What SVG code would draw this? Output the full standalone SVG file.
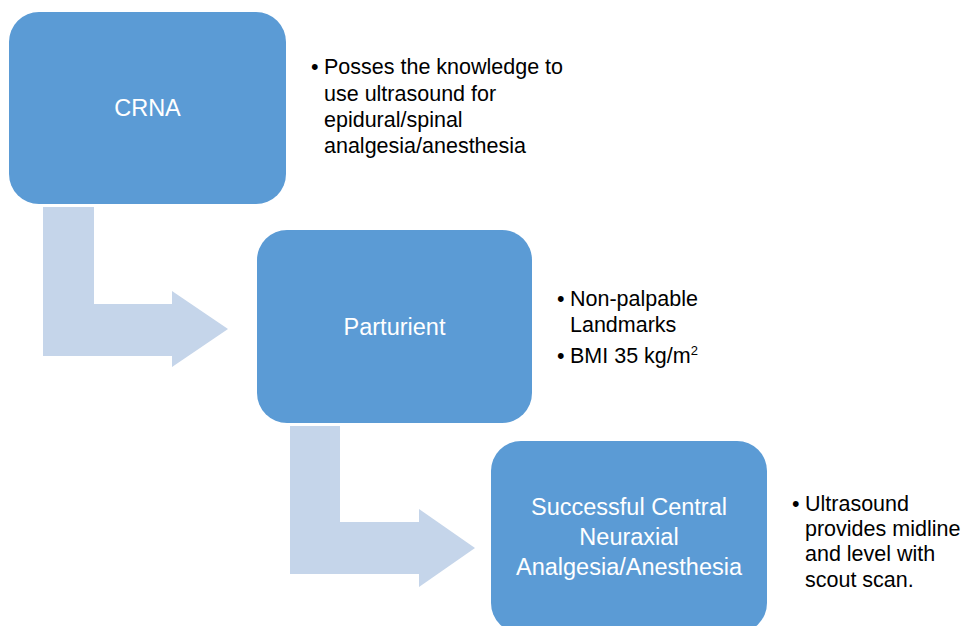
<svg xmlns="http://www.w3.org/2000/svg" width="967" height="626" viewBox="0 0 967 626">
<style>
.box{fill:#5B9BD5;}
.arr{fill:#C5D5EA;}
.bt{font-family:"Liberation Sans",Arial,sans-serif;font-size:23.5px;fill:#FFFFFF;text-anchor:middle;}
.bl{font-family:"Liberation Sans",Arial,sans-serif;font-size:21.5px;fill:#000000;}
</style>
<rect width="967" height="626" fill="#FFFFFF"/>
<g id="connectors">
<polygon class="arr" points="43,207 94,207 94,304 172,304 172,291 228,329 172,367 172,356 43,356"/>
<polygon class="arr" points="290,426 340,426 340,522 419,522 419,509 475,548 419,587 419,574 290,574"/>
</g>
<g id="crna">
<rect class="box" x="9" y="12" width="277" height="192" rx="30" ry="30"/>
<text class="bt" x="147.5" y="116">CRNA</text>
</g>
<g id="crna-notes">
<text class="bl" x="311" y="74">•</text>
<text class="bl" x="324" y="74">Posses the knowledge to</text>
<text class="bl" x="324" y="100.5">use ultrasound for</text>
<text class="bl" x="324" y="127">epidural/spinal</text>
<text class="bl" x="324" y="153">analgesia/anesthesia</text>
</g>
<g id="parturient">
<rect class="box" x="257" y="230" width="275" height="193" rx="30" ry="30"/>
<text class="bt" x="394.5" y="334.5">Parturient</text>
</g>
<g id="parturient-notes">
<text class="bl" x="557" y="306">•</text>
<text class="bl" x="570" y="306">Non-palpable</text>
<text class="bl" x="570" y="331.5">Landmarks</text>
<text class="bl" x="557" y="362.5">•</text>
<text class="bl" x="570" y="362.5">BMI 35 kg/m<tspan font-size="13" dy="-8">2</tspan></text>
</g>
<g id="success">
<rect class="box" x="491" y="441" width="276" height="192" rx="30" ry="30"/>
<text class="bt" x="629" y="515">Successful Central</text>
<text class="bt" x="629" y="545">Neuraxial</text>
<text class="bt" x="629" y="575">Analgesia/Anesthesia</text>
</g>
<g id="success-notes">
<text class="bl" x="792" y="511">•</text>
<text class="bl" x="805" y="511">Ultrasound</text>
<text class="bl" x="805" y="536">provides midline</text>
<text class="bl" x="805" y="561">and level with</text>
<text class="bl" x="805" y="586.5">scout scan.</text>
</g>
</svg>
